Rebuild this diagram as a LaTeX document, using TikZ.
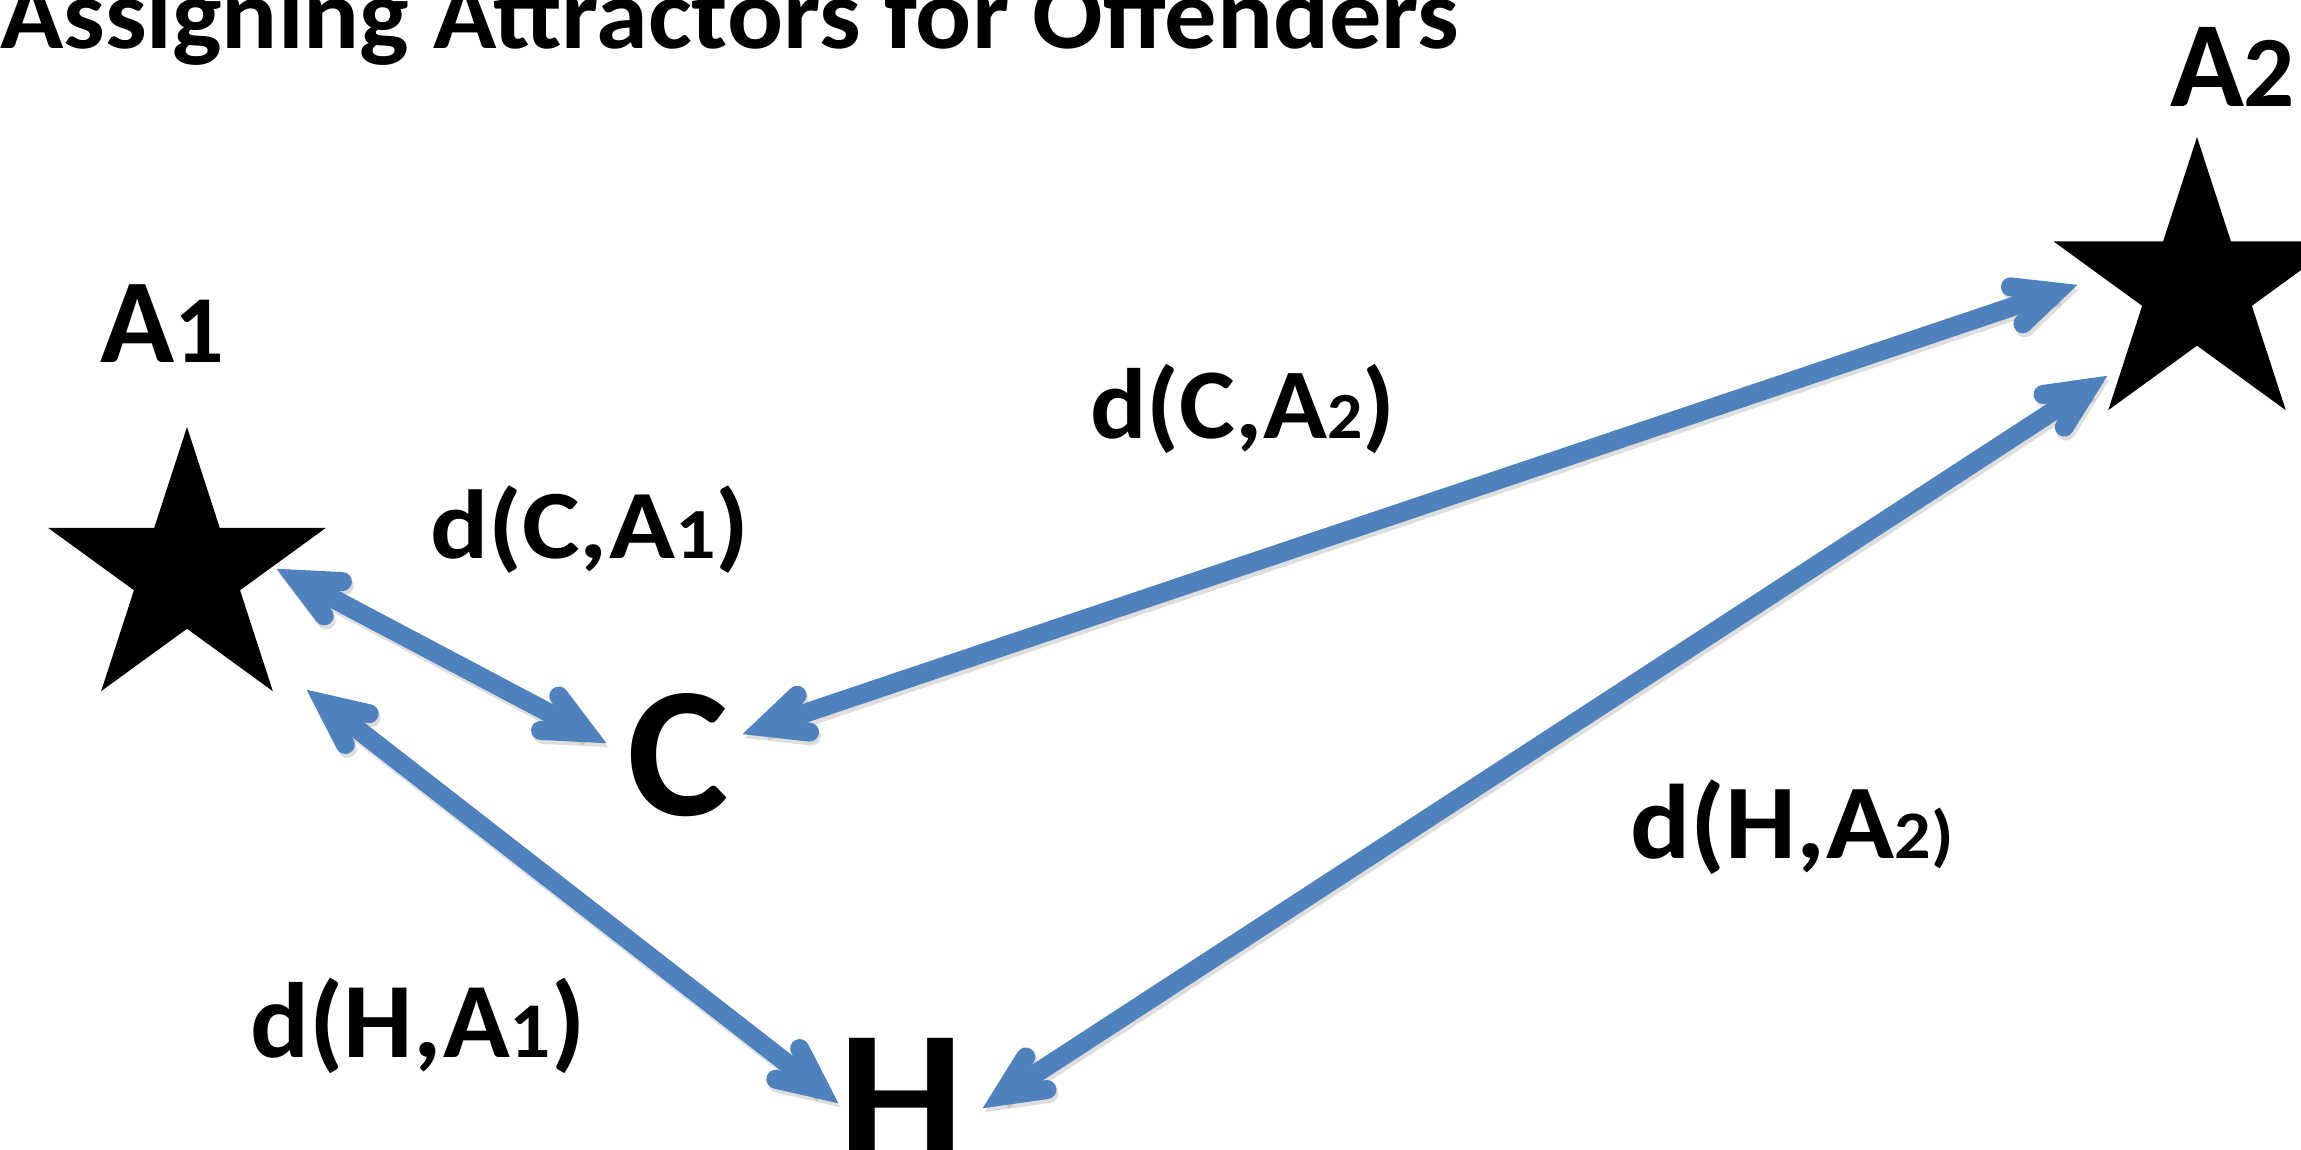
\documentclass[tikz,border=0pt]{standalone}
\usepackage{fontspec}
\setmainfont{Carlito}
\usetikzlibrary{calc,shapes.geometric}
\definecolor{arrowblue}{HTML}{4F81BD}
\newcommand\fs[1]{\fontsize{#1}{#1}\selectfont}
\newcommand\dblarrow[4]{%
 \coordinate (#1s) at ($(#2)!22pt!(#3)$);
 \coordinate (#1e) at ($(#3)!22pt!(#2)$);
 \draw[#4, line cap=butt] (#1s) -- (#1e);
 \draw[#4] ($(#1s)!46pt!25:(#1e)$) -- (#1s) -- ($(#1s)!46pt!-25:(#1e)$);
 \draw[#4] ($(#1e)!46pt!25:(#1s)$) -- (#1e) -- ($(#1e)!46pt!-25:(#1s)$);
}
\tikzset{
 arrowst/.style={draw=arrowblue, line width=19pt, line cap=round, line join=miter, miter limit=10},
 shadowst/.style={draw=black, opacity=0.13, line width=19pt, line cap=round, line join=miter, miter limit=10},
 lbl/.style={inner sep=0pt, outer sep=0pt, anchor=base west, text=black, font=\bfseries},
 starnode/.style={star, star points=5, star point ratio=2.618, fill=black, draw=none, inner sep=0pt}
}
\begin{document}
\begin{tikzpicture}[x=1pt,y=-1pt]
\useasboundingbox (0,0) rectangle (2301,1150);
\clip (0,0) rectangle (2301,1150);
% title
\node[lbl] (title) at (0,49) {\scalebox{1.045}[1]{\fs{100}Assigning Attractors for Offenders}};
% stars
\node[starnode, minimum size=292pt] (a1) at (187,573) {};
\node[starnode, minimum size=302pt] (a2) at (2197,288) {};
% labels
\node[lbl] (la1) at (100,362) {\scalebox{1.02}[1]{\fs{120}A\fs{96}1}};
\node[lbl] (la2) at (2170,107) {\scalebox{1.0}[1]{\fs{122}A\fs{101}2}};
\node[lbl] (c) at (627,815) {\scalebox{1.03}[1]{\fs{186}C}};
\node[lbl] (h) at (838,1161) {\scalebox{1.05}[1]{\fs{190}H}};
\node[lbl] (dca1) at (430,558) {\scalebox{1.11}[1]{\fs{98}d(C,A\fs{72}1\fs{98})}};
\node[lbl] (dca2) at (1090,438) {\scalebox{1.055}[1]{\fs{100}d(C,A\fs{66}2\fs{100})}};
\node[lbl] (dha1) at (250,1057) {\scalebox{1.03}[1]{\fs{107}d(H,A\fs{79}1\fs{107})}};
\node[lbl] (dha2) at (1630,858) {\scalebox{1.06}[1]{\fs{106}d(H,A\fs{68}2)}};
% arrow end points
\coordinate (tca1a) at (277,569);
\coordinate (tca1c) at (606,743);
\coordinate (tca2c) at (743,734);
\coordinate (tca2a) at (2077,285);
\coordinate (tha1a) at (307,690);
\coordinate (tha1h) at (838,1103);
\coordinate (tha2h) at (983,1108);
\coordinate (tha2a) at (2107,376);
% shadows
\begin{scope}[transform canvas={shift={(2pt,-4pt)}}]
\dblarrow{sca1}{tca1a}{tca1c}{shadowst}
\dblarrow{sca2}{tca2c}{tca2a}{shadowst}
\dblarrow{sha1}{tha1a}{tha1h}{shadowst}
\dblarrow{sha2}{tha2h}{tha2a}{shadowst}
\end{scope}
% arrows
\dblarrow{ca1}{tca1a}{tca1c}{arrowst}
\dblarrow{ca2}{tca2c}{tca2a}{arrowst}
\dblarrow{ha1}{tha1a}{tha1h}{arrowst}
\dblarrow{ha2}{tha2h}{tha2a}{arrowst}
\end{tikzpicture}
\end{document}
